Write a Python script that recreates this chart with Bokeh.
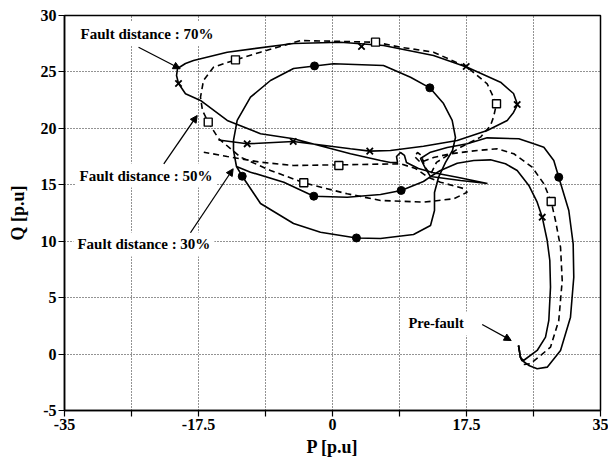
from bokeh.plotting import figure
from bokeh.models import FixedTicker, Label, Arrow, NormalHead, Range1d
from bokeh.embed import file_html
from bokeh.resources import INLINE

# ---- Fault distance 70 % (solid, x markers) ----
P70 = [24.29, 24.55, 24.95, 26.73, 27.82, 28.25, 28.47, 28.38, 28.04, 27.39, 26.73, 25.64,
       24.12, 22.59, 20.63, 18.45, 16.29, 14.10, 12.80, 16.72, 20.24, 16.46, 13.06, 11.23,
       9.66, 9.40, 8.88, 8.36, 8.49, 7.57, 6.27, 2.35, -5.09, -9.40, -13.75, -17.24, -19.20,
       -20.11, -20.37, -20.24, -19.20, -18.15, -13.75, -5.09, 1.04, 6.66, 13.19, 17.59, 21.94,
       23.64, 24.16, 23.64, 22.82, 20.20, 16.29, 11.88, 7.57, 4.87, 2.35, -5.13, -11.14, -14.89]
Q70 = [0.76, -0.30, -0.57, 0.32, 1.50, 2.98, 5.93, 8.29, 10.06, 12.13, 13.46, 14.94,
       16.27, 16.86, 17.21, 17.15, 16.91, 16.27, 15.73, 15.38, 15.11, 15.65, 16.09, 16.44,
       16.98, 17.60, 17.86, 17.51, 16.98, 16.98, 17.15, 17.75, 19.08, 19.52, 20.70, 22.47, 23.06,
       23.97, 24.68, 25.30, 25.75, 26.01, 26.75, 27.52, 27.63, 27.34, 26.46, 25.42, 24.09,
       23.09, 22.11, 21.41, 20.70, 19.81, 18.92, 18.42, 18.04, 17.98, 18.19, 18.84, 18.63, 18.97]
X70_P = [27.39, 24.12, 17.46, 3.79, -20.11, -11.14, -5.13, 4.87]
X70_Q = [12.13, 22.11, 25.48, 27.25, 23.97, 18.63, 18.84, 17.98]

# ---- Fault distance 50 % (dashed, square markers) ----
P50 = [24.29, 24.55, 24.95, 25.86, 28.47, 29.55, 30.00, 29.78, 29.12, 28.56, 27.60, 26.08,
       23.68, 21.51, 18.90, 15.41, 13.19, 11.49, 10.71, 11.10, 11.62, 12.02, 12.80, 13.58,
       16.72, 19.33, 20.63, 21.03, 21.42, 20.20, 17.59, 13.19, 8.88, 5.62, 0.13, -4.18, -9.40,
       -12.67, -15.54, -16.85, -17.24, -16.98, -16.23, -14.89, -12.01, -8.10, -3.75, 1.92, 6.27,
       11.92, 15.84, 17.59, 17.11, 14.10, 12.54, 10.84, 8.88, 1.04, -5.09, -9.40, -13.75, -16.81]
Q50 = [0.76, -0.30, -0.92, -0.86, 0.61, 2.98, 6.52, 9.47, 11.84, 13.52, 15.09, 16.56,
       17.75, 18.19, 18.04, 17.75, 17.42, 16.98, 17.51, 17.86, 17.60, 16.62, 15.91, 16.98,
       18.33, 19.22, 20.25, 20.99, 22.18, 23.95, 25.42, 26.75, 27.19, 27.63, 27.72, 27.78, 26.75,
       26.07, 25.42, 24.24, 22.76, 21.58, 20.55, 19.10, 17.45, 16.27, 15.18, 14.20, 13.61,
       13.46, 13.76, 14.34, 14.67, 15.23, 15.65, 16.44, 16.86, 16.77, 16.71, 17.00, 17.51, 17.89]
S50_P = [28.56, 21.42, 5.62, -12.67, -16.23, -3.75, 0.83]
S50_Q = [13.52, 22.18, 27.64, 26.07, 20.55, 15.18, 16.71]

# ---- Fault distance 30 % (solid, dot markers) ----
P30 = [24.29, 24.55, 24.77, 25.64, 26.73, 28.04, 29.78, 31.08, 31.51, 31.43, 30.86, 29.55,
       28.90, 27.60, 26.29, 24.33, 20.20, 17.59, 14.98, 12.80, 11.49, 12.15, 12.80, 11.88,
       8.97, 6.27, 1.92, -2.44, -6.36, -10.71, -12.54, -12.93, -12.93, -12.45, -10.71, -8.10,
       -5.09, -2.35, 0.13, 6.66, 10.19, 12.71, 14.50, 15.63, 16.06, 15.67, 14.76, 13.84, 13.32,
       13.32, 12.80, 10.58, 6.27, 3.13, -1.57, -5.09, -9.40, -11.79, -12.54]
Q30 = [0.76, -0.30, -0.57, -1.01, -1.30, -1.16, 0.32, 3.27, 6.81, 9.77, 12.72, 15.67,
       17.15, 18.33, 18.63, 19.08, 19.16, 18.63, 18.30, 17.89, 17.33, 16.44, 15.73, 15.29,
       14.50, 14.14, 13.90, 13.99, 15.23, 16.12, 16.62, 18.04, 18.93, 20.70, 22.76, 24.24,
       25.30, 25.53, 25.72, 25.57, 24.53, 23.59, 22.20, 20.70, 19.19, 18.04, 16.98, 15.65, 14.32,
       12.72, 11.39, 10.60, 10.24, 10.29, 10.80, 11.57, 13.34, 15.76, 16.62]
D30_P = [29.55, 8.97, -2.44, -2.35, 12.71, 3.13, -11.79]
D30_Q = [15.67, 14.50, 13.99, 25.53, 23.59, 10.29, 15.76]

X_TICKS = [-35, -26.25, -17.5, -8.75, 0, 8.75, 17.5, 26.25, 35]
X_LABELS = ["-35", "", "-17.5", "", "0", "", "17.5", "", "35"]
Y_TICKS = [-5, 0, 5, 10, 15, 20, 25, 30]

FONT = "Liberation Serif"

p = figure(width=608, height=465, output_backend="svg", toolbar_location=None,
           x_range=Range1d(-35, 35), y_range=Range1d(-5, 30),
           min_border_left=64, min_border_right=8, min_border_top=15, min_border_bottom=55)
p.background_fill_color = "white"
p.border_fill_color = "white"
p.outline_line_color = "black"
p.outline_line_width = 1.5

p.xaxis.ticker = FixedTicker(ticks=X_TICKS)
p.xaxis.major_label_overrides = {t: l for t, l in zip(X_TICKS, X_LABELS)}
p.yaxis.ticker = FixedTicker(ticks=Y_TICKS)
p.yaxis.major_label_overrides = {t: str(t) for t in Y_TICKS}
for ax in (p.xaxis, p.yaxis):
    ax.major_tick_in = 0
    ax.major_tick_out = 6
    ax.minor_tick_out = 0
    ax.minor_tick_in = 0
    ax.axis_line_color = "black"
    ax.axis_line_width = 1.5
    ax.major_tick_line_color = "black"
    ax.major_tick_line_width = 1.2
    ax.major_label_text_font = FONT
    ax.major_label_text_font_style = "bold"
    ax.major_label_text_font_size = "16px"
    ax.major_label_text_color = "black"
    ax.axis_label_text_font = FONT
    ax.axis_label_text_font_style = "bold"
    ax.axis_label_text_font_size = "18px"
    ax.axis_label_text_color = "black"
    ax.major_label_standoff = 2
p.xaxis.axis_label = "P [p.u]"
p.yaxis.axis_label = "Q [p.u]"
p.xaxis.axis_label_standoff = 4
p.yaxis.axis_label_standoff = 10

for g in (p.xgrid, p.ygrid):
    g.grid_line_color = "black"
    g.grid_line_dash = "1 2"
    g.grid_line_width = 1
    g.grid_line_alpha = 0.85
p.xgrid.ticker = FixedTicker(ticks=X_TICKS)
p.ygrid.ticker = FixedTicker(ticks=Y_TICKS)

p.line(P70, Q70, line_color="black", line_width=1.6)
p.line(P50, Q50, line_color="black", line_width=1.6, line_dash="6 4")
p.line(P30, Q30, line_color="black", line_width=1.6)

p.scatter(X70_P, X70_Q, marker="x", size=9, line_color="black", line_width=1.8)
p.scatter(S50_P, S50_Q, marker="square", size=8, line_color="black", line_width=1.4,
          fill_color="white")
p.scatter(D30_P, D30_Q, marker="circle", size=8, line_color="black", fill_color="black")

labels = [("Fault distance : 70%", -33.43, 28.4),
          ("Fault distance : 50%", -33.56, 15.82),
          ("Fault distance : 30%", -33.83, 9.71),
          ("Pre-fault", 9.40, 2.71)]
for txt, lx, ly in labels:
    p.add_layout(Label(x=lx, y=ly, text=txt, text_font=FONT, text_font_style="bold",
                       text_font_size="15px" if txt != "Pre-fault" else "14.5px",
                       text_baseline="middle", text_align="left", text_color="black",
                       background_fill_color="white", padding=4))

arrows = [(-25.33, 27.19, -19.89, 25.28),
          (-22.03, 16.86, -17.67, 21.14),
          (-18.55, 10.75, -12.97, 16.42),
          (19.55, 2.62, 23.34, 1.20)]
for xs, ys, xe, ye in arrows:
    p.add_layout(Arrow(end=NormalHead(size=7, fill_color="black", line_color="black"),
                       x_start=xs, y_start=ys, x_end=xe, y_end=ye,
                       line_color="black", line_width=1.3))

open("out.html", "w").write(file_html(p, INLINE))
